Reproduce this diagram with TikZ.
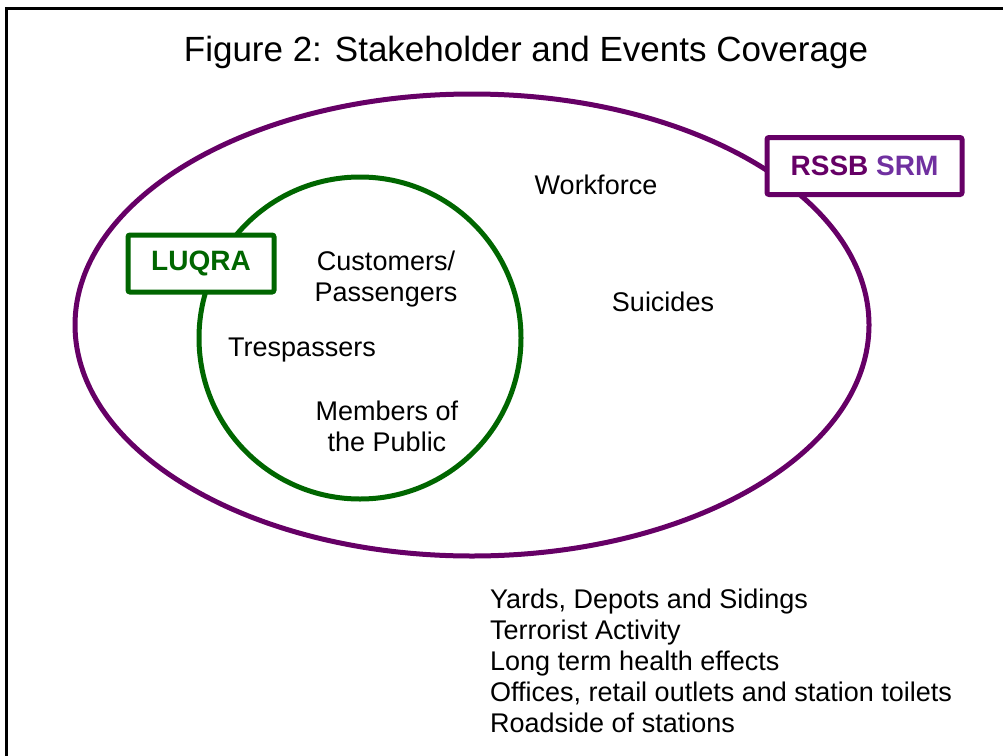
\documentclass[tikz,border=0pt]{standalone}
\usepackage{fontspec}
\setmainfont{Liberation Sans}
\usepackage{xcolor}
\usetikzlibrary{shapes.geometric,positioning}

\definecolor{srmpurple}{HTML}{660066}
\definecolor{srmlight}{HTML}{7030A0}
\definecolor{luqragreen}{HTML}{006600}

\tikzset{
  label text/.style={font=\fontsize{27}{31}\selectfont, align=center, inner sep=0pt},
  model box/.style={draw, line width=5pt, rounded corners=2pt, fill=white,
    minimum width=#1, minimum height=57pt, inner sep=0pt,
    font=\fontsize{28}{32}\selectfont\bfseries},
}

\begin{document}
\begin{tikzpicture}[x=1pt,y=-1pt]
\useasboundingbox (0,0) rectangle (1003,755);
% frame, cut at right and bottom
\draw[line width=3pt] (1010,8.5) -- (6.5,8.5) -- (6.5,760);
\node (title) at (526,52) {\fontsize{35}{40}\selectfont Figure 2: Stakeholder and Events Coverage};

% scopes of the two models
\node[draw=srmpurple, line width=5pt, ellipse, minimum width=794pt, minimum height=462pt, inner sep=0pt] (srm) at (472,325) {};
\node[draw=luqragreen, line width=5pt, circle, minimum size=322pt, inner sep=0pt] (luqra) at (360,338) {};

\node[model box=195pt, draw=srmpurple] (srmbox) at (864.5,166) {\textcolor{srmpurple}{RSSB} \textcolor{srmlight}{SRM}};
\node[model box=146pt, draw=luqragreen, text=luqragreen] (luqrabox) at (201,263.5) {LUQRA};

% stakeholders
\node[label text] (workforce) at (596,185) {Workforce};
\node[label text] (suicides) at (663,302) {Suicides};
\node[label text] (customers) at (386,279) {Customers/\\Passengers};
\node[label text] (trespassers) at (302,350) {Trespassers};
\node[label text] (public) at (387,426) {Members of\\the Public};

% events outside both
\node[label text, align=left, anchor=north west] (others) at (490,589)
  {Yards, Depots and Sidings\\Terrorist Activity\\Long term health effects\\Offices, retail outlets and station toilets\\Roadside of stations};
\end{tikzpicture}
\end{document}
